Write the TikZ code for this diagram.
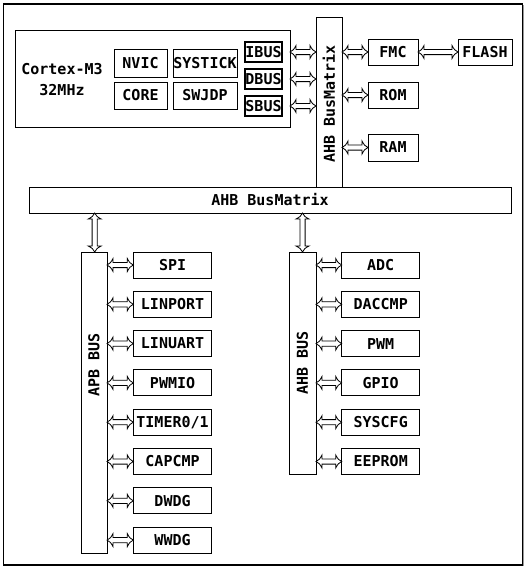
\documentclass[tikz,border=0pt]{standalone}
\usepackage{fontspec}
\newfontfamily\mono{DejaVu Sans Mono}
\usetikzlibrary{calc,shadows}
% hollow double-headed arrows (horizontal and vertical), drawn between named anchors
\newcommand\harr[2]{%
  \draw[hollow] let \p1=#1, \p2=#2 in
    (\x1,\y1) .. controls (\x1+3.5pt,\y1+2pt) .. (\x1+6pt,\y1+6.5pt) -- (\x1+6pt,\y1+2.6pt)
    -- (\x2-6pt,\y1+2.6pt) -- (\x2-6pt,\y1+6.5pt) .. controls (\x2-3.5pt,\y1+2pt) .. (\x2,\y1)
    .. controls (\x2-3.5pt,\y1-2pt) .. (\x2-6pt,\y1-6.5pt) -- (\x2-6pt,\y1-2.6pt)
    -- (\x1+6pt,\y1-2.6pt) -- (\x1+6pt,\y1-6.5pt) .. controls (\x1+3.5pt,\y1-2pt) .. cycle;}
\newcommand\varr[2]{%
  \draw[hollow] let \p1=#1, \p2=#2 in
    (\x1,\y1) .. controls (\x1+2pt,\y1-3.5pt) .. (\x1+6.5pt,\y1-6pt) -- (\x1+2.6pt,\y1-6pt)
    -- (\x1+2.6pt,\y2+6pt) -- (\x1+6.5pt,\y2+6pt) .. controls (\x1+2pt,\y2+3.5pt) .. (\x1,\y2)
    .. controls (\x1-2pt,\y2+3.5pt) .. (\x1-6.5pt,\y2+6pt) -- (\x1-2.6pt,\y2+6pt)
    -- (\x1-2.6pt,\y1-6pt) -- (\x1-6.5pt,\y1-6pt) .. controls (\x1-2pt,\y1-3.5pt) .. cycle;}
\begin{document}
\begin{tikzpicture}[x=1pt,y=-1pt,
  txt/.style={font=\mono\bfseries\fontsize{15}{21}\selectfont},
  box/.style={draw, line width=1pt, inner sep=0pt, outer sep=0pt, anchor=north west, txt},
  bar/.style={draw, line width=1pt, inner sep=0pt, outer sep=0pt, fill=white},
  hollow/.style={draw, line width=0.8pt, fill=white, line join=miter},
  frame/.style={draw, line width=1.2pt, fill=white, drop shadow={shadow xshift=1.2pt, shadow yshift=-1.2pt, fill=gray!80, opacity=1}}
]
\useasboundingbox (0,0) rectangle (528,570);
% outer frame
\node[frame, minimum width=519, minimum height=561, anchor=north west, inner sep=0pt, outer sep=0pt] (outer) at (3.5,4) {};

% Cortex box
\node[box, minimum width=275, minimum height=97] (cortex) at (15,30) {};
\node[txt, align=center] (cortexlbl) at (62,80) {Cortex-M3\\32MHz};
\node[box, minimum width=53, minimum height=28] (nvic) at (114,49) {NVIC};
\node[box, minimum width=64, minimum height=28] (systick) at (173,49) {SYSTICK};
\node[box, minimum width=53, minimum height=27] (core) at (114,82) {CORE};
\node[box, minimum width=64, minimum height=27] (swjdp) at (173,82) {SWJDP};
\node[box, minimum width=37, minimum height=20, line width=1.3pt] (ibus) at (245,42) {IBUS};
\node[box, minimum width=37, minimum height=20, line width=1.3pt] (dbus) at (245,69) {DBUS};
\node[box, minimum width=37, minimum height=20, line width=1.3pt] (sbus) at (245,96) {SBUS};

% vertical bus matrix
\node[bar, minimum width=26, minimum height=170, anchor=north west] (bm) at (316,17) {};
\node[txt, rotate=90] (bmlbl) at (329,104) {AHB BusMatrix};

% memories
\node[box, minimum width=50, minimum height=26] (fmc) at (368,39) {FMC};
\node[box, minimum width=54, minimum height=26] (flash) at (458,39) {FLASH};
\node[box, minimum width=50, minimum height=26] (rom) at (368,82) {ROM};
\node[box, minimum width=50, minimum height=27] (ram) at (368,134) {RAM};

% horizontal bus matrix
\node[box, minimum width=482, minimum height=26, fill=white] (hbm) at (29,187) {AHB BusMatrix};

% APB bus
\node[bar, minimum width=26, minimum height=301, anchor=north west] (apb) at (81,252) {};
\node[txt, rotate=90] (apblbl) at (94,365) {APB BUS};
% AHB bus
\node[bar, minimum width=27, minimum height=222, anchor=north west] (ahb) at (289,252) {};
\node[txt, rotate=90] (ahblbl) at (302.5,363) {AHB BUS};

% APB peripherals
\foreach \t [count=\i from 0] in {SPI,LINPORT,LINUART,PWMIO,TIMER0/1,CAPCMP,DWDG,WWDG}{
  \node[box, minimum width=78.5, minimum height=26] (p\i) at (133.3,252+39.3*\i) {\t};
  \harr{(apb.east |- p\i.west)}{(p\i.west)}
}
% AHB peripherals
\foreach \t [count=\i from 0] in {ADC,DACCMP,PWM,GPIO,SYSCFG,EEPROM}{
  \node[box, minimum width=78, minimum height=26] (q\i) at (341.7,252+39.3*\i) {\t};
  \harr{(ahb.east |- q\i.west)}{(q\i.west)}
}

% connectors top
\harr{(cortex.east |- ibus.east)}{(bm.west |- ibus.east)}
\harr{(cortex.east |- dbus.east)}{(bm.west |- dbus.east)}
\harr{(cortex.east |- sbus.east)}{(bm.west |- sbus.east)}
\harr{(bm.east |- fmc.west)}{(fmc.west)}
\harr{(bm.east |- rom.west)}{(rom.west)}
\harr{(bm.east |- ram.west)}{(ram.west)}
\harr{(fmc.east)}{(flash.west)}
\coordinate (a1) at ($(hbm.south -| apb.center)+(0.7,0)$);
\coordinate (a2) at (hbm.south -| ahb.center);
\varr{(a1)}{(a1 |- apb.north)}
\varr{(a2)}{(a2 |- ahb.north)}
\end{tikzpicture}
\end{document}
